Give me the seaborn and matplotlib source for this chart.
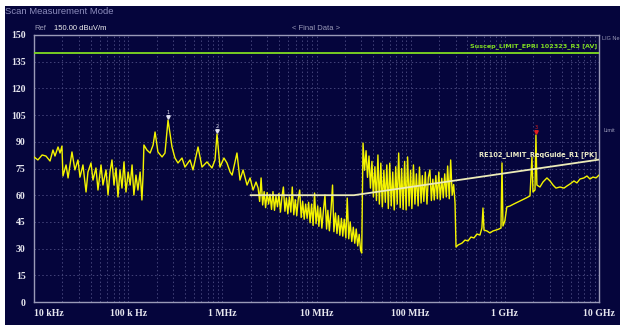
import matplotlib
matplotlib.use("Agg")
import matplotlib.pyplot as plt
import seaborn as sns
import pandas as pd
from matplotlib.ticker import LogLocator, NullFormatter
from matplotlib.patches import Rectangle

# ---------------- data ----------------
# measured trace, frequency in Hz
freq_hz = [
    10e3, 11.0e3, 12.2e3, 13.4e3, 14.8e3, 15.9e3, 16.7e3, 18.0e3, 18.9e3, 19.8e3,
    20.3e3, 21.9e3, 23.0e3, 25.3e3, 27.2e3, 29.3e3, 30.8e3, 33.1e3, 35.7e3, 37.4e3,
    40.3e3, 42.3e3, 45.5e3, 47.8e3, 51.5e3, 54.0e3, 58.2e3, 61.1e3, 64.1e3, 67.3e3,
    70.7e3, 74.3e3, 78.0e3, 81.9e3, 86.0e3, 90.3e3, 94.8e3, 100e3, 105e3, 110e3,
    115e3, 121e3, 127e3, 134e3, 140e3, 144e3, 147e3, 158e3, 171e3, 184e3,
    193e3, 207e3, 229e3, 246e3, 265e3, 292e3, 314e3, 338e3, 373e3, 401e3,
    454e3, 488e3, 552e3, 608e3, 687e3, 776e3, 836e3, 878e3, 944e3, 1.04e6,
    1.12e6, 1.21e6, 1.27e6, 1.43e6, 1.54e6, 1.66e6, 1.83e6, 1.97e6, 2.12e6, 2.28e6,
    # 2.4 - 30 MHz band
    2.40e6, 2.49e6, 2.58e6, 2.68e6, 2.78e6, 2.88e6, 2.99e6, 3.10e6, 3.21e6, 3.33e6,
    3.45e6, 3.58e6, 3.71e6, 3.85e6, 3.99e6, 4.14e6, 4.29e6, 4.45e6, 4.62e6, 4.79e6,
    4.96e6, 5.15e6, 5.34e6, 5.53e6, 5.74e6, 5.95e6, 6.17e6, 6.40e6, 6.63e6, 6.88e6,
    7.13e6, 7.40e6, 7.67e6, 7.95e6, 8.25e6, 8.55e6, 8.87e6, 9.20e6, 9.54e6, 9.89e6,
    10.3e6, 10.6e6, 11.0e6, 11.4e6, 11.9e6, 12.3e6, 12.8e6, 13.2e6, 13.7e6, 14.2e6,
    14.8e6, 15.3e6, 15.9e6, 16.5e6, 17.1e6, 17.7e6, 18.4e6, 19.0e6, 19.7e6, 20.5e6,
    21.2e6, 22.0e6, 22.8e6, 23.7e6, 24.6e6, 25.5e6, 26.4e6, 27.4e6, 28.4e6, 29.4e6,
    30.2e6,
    # 31 - 300 MHz band
    31.2e6, 32.4e6, 33.6e6, 34.8e6, 36.1e6, 37.4e6, 38.8e6, 40.2e6, 41.7e6, 43.3e6,
    44.9e6, 46.5e6, 48.2e6, 50.0e6, 51.9e6, 53.8e6, 55.8e6, 57.9e6, 60.0e6, 62.2e6,
    64.5e6, 66.9e6, 69.4e6, 72.0e6, 74.6e6, 77.4e6, 80.2e6, 83.2e6, 86.3e6, 89.5e6,
    92.8e6, 96.2e6, 99.8e6, 103e6, 107e6, 111e6, 115e6, 120e6, 124e6, 129e6,
    133e6, 138e6, 143e6, 149e6, 154e6, 160e6, 166e6, 172e6, 178e6, 185e6,
    192e6, 199e6, 206e6, 214e6, 222e6, 230e6, 239e6, 247e6, 257e6, 266e6,
    276e6, 286e6, 296e6,
    # above 300 MHz
    303e6, 318e6, 351e6, 378e6, 406e6, 437e6, 470e6, 506e6,
    544e6, 571e6, 586e6, 601e6, 646e6, 695e6, 748e6, 805e6, 866e6, 910e6,
    933e6, 955e6, 1.00e9, 1.05e9, 1.13e9, 1.25e9, 1.38e9, 1.52e9, 1.68e9, 1.85e9,
    1.90e9, 1.94e9, 1.99e9, 2.09e9, 2.14e9, 2.19e9, 2.36e9, 2.54e9, 2.80e9, 3.02e9,
    3.25e9, 3.49e9, 3.85e9, 4.25e9, 4.57e9, 4.92e9, 5.42e9, 5.83e9, 6.28e9, 6.92e9,
    7.45e9, 8.02e9, 8.63e9, 9.29e9, 10e9,
]
# measured trace level in dBuV/m
level_dbuv = [
    81.5, 79.8, 82.6, 82.0, 79.2, 85.4, 82.0, 87.1, 83.7, 87.6,
    70.8, 77.0, 69.7, 84.3, 74.2, 79.8, 70.2, 77.0, 61.8, 73.0,
    78.1, 68.5, 75.3, 62.9, 77.0, 65.7, 74.2, 60.1, 73.0, 79.8,
    65.7, 75.3, 59.0, 74.2, 64.0, 78.7, 61.8, 73.0, 65.7, 77.0,
    60.1, 71.3, 62.9, 73.0, 57.3, 71.3, 88.2, 85.4, 83.7, 88.2,
    95.5, 84.3, 81.5, 83.7, 102.2, 87.1, 80.9, 78.1, 80.9, 75.8,
    79.8, 74.2, 87.1, 75.8, 78.7, 75.3, 79.8, 94.4, 75.8, 80.9,
    78.1, 73.0, 71.3, 83.7, 68.5, 74.2, 65.7, 69.7, 62.9, 67.4,
    # 2.4 - 30 MHz band
    64.0, 56.5, 69.7, 54.5, 62.0, 53.0, 61.5, 55.0, 60.5, 52.0,
    62.0, 51.5, 59.5, 53.5, 61.0, 50.5, 59.0, 64.6, 51.0, 58.5,
    49.5, 59.0, 50.5, 64.6, 49.0, 57.5, 48.5, 58.0, 62.9, 47.5,
    56.5, 46.5, 55.0, 47.0, 56.0, 44.5, 55.0, 43.0, 61.2, 44.0,
    54.0, 42.5, 53.0, 41.5, 52.5, 60.1, 41.0, 51.5, 40.0, 50.5,
    65.7, 39.5, 50.0, 38.5, 48.5, 37.5, 47.0, 37.0, 46.5, 36.0,
    58.4, 35.5, 45.0, 34.0, 42.0, 33.0, 41.0, 31.5, 38.0, 29.0,
    27.5,
    # 31 - 300 MHz band
    89.3, 74.0, 85.0, 70.0, 82.0, 64.0, 79.0, 59.0, 76.0, 57.0,
    82.6, 55.0, 78.0, 53.4, 74.0, 56.0, 77.0, 52.5, 78.0, 54.0,
    73.0, 51.7, 76.0, 55.0, 83.7, 53.0, 75.0, 52.0, 79.0, 51.7,
    81.5, 54.0, 74.0, 52.5, 77.0, 55.0, 72.0, 54.0, 75.8, 55.6,
    71.0, 56.5, 73.0, 55.0, 70.0, 74.2, 57.0, 69.0, 57.3, 71.0,
    58.0, 73.0, 57.5, 69.5, 58.5, 72.0, 59.0, 76.4, 58.0, 79.8,
    60.0, 66.0, 55.6,
    # above 300 MHz
    30.9, 32.0, 33.1, 34.8, 34.3, 36.5, 36.0, 38.2,
    37.6, 41.6, 52.8, 40.4, 39.9, 38.8, 39.9, 40.4, 41.0, 41.6,
    78.1, 42.7, 45.5, 53.4, 53.9, 55.1, 56.2, 57.3, 58.4, 59.6,
    72.5, 81.5, 61.8, 62.9, 93.8, 65.7, 64.6, 67.4, 69.7, 68.0,
    65.7, 64.0, 64.6, 64.0, 65.2, 66.3, 68.0, 66.9, 69.1, 69.7,
    70.8, 69.1, 70.2, 69.7, 71.3,
]

susc_limit_freq = [1e4, 1e10]
susc_limit_level = [140.0, 140.0]
re102_freq = [2e6, 25e6, 1e10]
re102_level = [60.0, 60.0, 80.0]

marker_freq = [265e3, 878e3, 2.14e9]
marker_level = [102.2, 94.4, 93.8]
marker_names = ["1", "2", "3"]
marker_colors = ["#e0e0f0", "#e0e0f0", "#e02020"]

x_tick_vals = [1e4, 1e5, 1e6, 1e7, 1e8, 1e9, 1e10]
x_tick_labels = ["10 kHz", "100 k Hz", "1 MHz", "10 MHz", "100 MHz", "1 GHz", "10 GHz"]
y_tick_vals = list(range(0, 151, 15))

# ---------------- styling ----------------
NAVY = "#05053c"
GRID = "#44447a"
SPINE = "#9a9ab8"
TXT = "#e8e8f0"

trace = pd.DataFrame({"freq": freq_hz, "level": level_dbuv})
susc = pd.DataFrame({"freq": susc_limit_freq, "level": susc_limit_level})
re102 = pd.DataFrame({"freq": re102_freq, "level": re102_level})

fig = plt.figure(figsize=(6.2, 3.25), dpi=100)
fig.patch.set_facecolor("white")
bg = Rectangle((5 / 620, 0), 1 - 5 / 620, 1 - 6 / 325,
               transform=fig.transFigure, facecolor=NAVY,
               edgecolor="none", zorder=-10)
fig.patches.append(bg)

ax = fig.add_axes([34 / 620, 1 - 302 / 325, (599 - 34) / 620, (302 - 35) / 325])
ax.set_zorder(1)
ax.set_facecolor(NAVY)

sns.lineplot(data=susc, x="freq", y="level", ax=ax, color="#80dc22",
             linewidth=1.3, estimator=None, sort=False, zorder=3)
sns.lineplot(data=trace, x="freq", y="level", ax=ax, color="#f4f400",
             linewidth=1.0, estimator=None, sort=False, zorder=4)
sns.lineplot(data=re102, x="freq", y="level", ax=ax, color="#ecebb8",
             linewidth=1.3, estimator=None, sort=False, zorder=5)

for f, lv, name, c in zip(marker_freq, marker_level, marker_names, marker_colors):
    ax.plot([f], [lv + 1.5], marker="v", markersize=2.5, color=c,
            linestyle="none", zorder=6)
    ax.text(f, lv + 3.0, name, color=c, fontsize=3.5, ha="center",
            va="bottom", zorder=6)

ax.set_xscale("log")
ax.set_xlim(1e4, 1e10)
ax.set_ylim(0, 150)
ax.set_xticks(x_tick_vals)
ax.set_xticklabels(x_tick_labels)
ax.xaxis.set_minor_locator(LogLocator(base=10, subs=range(2, 10), numticks=100))
ax.xaxis.set_minor_formatter(NullFormatter())
ax.set_yticks(y_tick_vals)
ax.set_yticklabels([str(v) for v in y_tick_vals])
ax.set_xlabel("")
ax.set_ylabel("")

ax.grid(which="both", axis="x", color=GRID, linestyle=(0, (1.5, 2.5)), linewidth=0.7)
ax.grid(which="major", axis="y", color=GRID, linestyle=(0, (1.5, 2.5)), linewidth=0.7)
ax.set_axisbelow(True)

for s in ax.spines.values():
    s.set_color(SPINE)
    s.set_linewidth(1.0)

ax.tick_params(axis="both", which="both", length=0)
ax.tick_params(axis="y", pad=6)
ax.tick_params(axis="x", pad=5)
for lab in ax.get_xticklabels() + ax.get_yticklabels():
    lab.set_fontfamily(["Liberation Serif", "DejaVu Serif"])
    lab.set_fontweight("bold")
    lab.set_fontsize(7)
    lab.set_color(TXT)
ax.get_xticklabels()[0].set_ha("left")

# ---------------- texts ----------------
fig.text(5 / 620, 1 - 11 / 325, "Scan Measurement Mode", color="#8c8cbc",
         fontsize=6.8, family=["Liberation Sans", "DejaVu Sans"],
         va="center", ha="left")
fig.text(34 / 620, 1 - 28 / 325, "Ref", color="#9a9ab8", fontsize=5.5,
         family=["Liberation Sans", "DejaVu Sans"], va="center", ha="left")
fig.text(54 / 620, 1 - 28 / 325, "150.00 dBuV/m", color="#f0f0f0", fontsize=5.5,
         family=["Liberation Sans", "DejaVu Sans"], va="center", ha="left")
fig.text(316 / 620, 1 - 28 / 325, "< Final Data >", color="#9a9ab8", fontsize=5.5,
         family=["Liberation Sans", "DejaVu Sans"], va="center", ha="center")
fig.text(602 / 620, 1 - 38 / 325, "LIG Ne", color="#9a9ab8", fontsize=4,
         family=["Liberation Sans", "DejaVu Sans"], va="center", ha="left")
fig.text(603 / 620, 1 - 131 / 325, "Limit", color="#9a9ab8", fontsize=4,
         family=["Liberation Sans", "DejaVu Sans"], va="center", ha="left")
fig.text(597 / 620, 1 - 46 / 325, "Suscep_LIMIT_EPRI 102323_R3 [AV]", color="#80dc22",
         fontsize=4.6, fontweight="bold", family=["DejaVu Sans"], va="center", ha="right")
fig.text(597 / 620, 1 - 155 / 325, "RE102_LIMIT_ReqGuide_R1 [PK]", color="#ecebc8",
         fontsize=4.8, fontweight="bold", family=["DejaVu Sans"], va="center", ha="right")

fig.savefig("out.png", dpi=100, facecolor=fig.get_facecolor())
